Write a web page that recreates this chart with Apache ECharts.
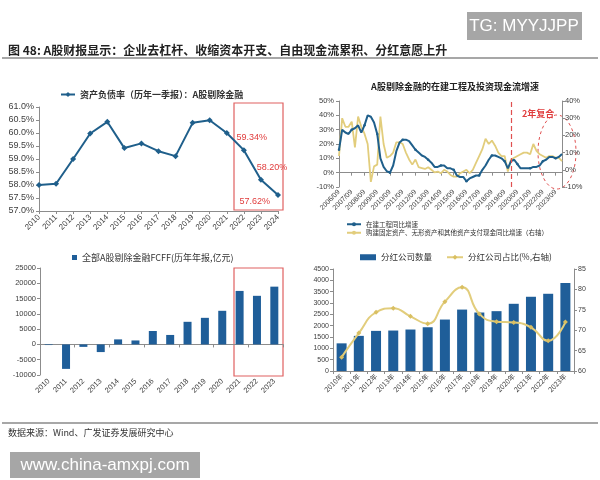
<!DOCTYPE html>
<html>
<head>
<meta charset="utf-8">
<script src="https://cdn.jsdelivr.net/npm/echarts@6/dist/echarts.min.js"></script>
<style>
  html, body { margin: 0; padding: 0; background: #fff; }
  #main { width: 600px; height: 480px; }
</style>
</head>
<body>
<div id="main"></div>
<script>
// 资产负债率（历年一季报）
var debtYears = ['2010', '2011', '2012', '2013', '2014', '2015', '2016', '2017', '2018', '2019', '2020', '2021', '2022', '2023', '2024']
var debtRatio = [58.0, 58.05, 59.0, 59.98, 60.43, 59.42, 59.6, 59.3, 59.11, 60.39, 60.49, 60.0, 59.34, 58.20, 57.62]

// 在建工程及投资现金流增速（季度）
var quarters = [
  '2006/09', '2006/12',
  '2007/03', '2007/06', '2007/09', '2007/12', '2008/03', '2008/06', '2008/09', '2008/12',
  '2009/03', '2009/06', '2009/09', '2009/12', '2010/03', '2010/06', '2010/09', '2010/12',
  '2011/03', '2011/06', '2011/09', '2011/12', '2012/03', '2012/06', '2012/09', '2012/12',
  '2013/03', '2013/06', '2013/09', '2013/12', '2014/03', '2014/06', '2014/09', '2014/12',
  '2015/03', '2015/06', '2015/09', '2015/12', '2016/03', '2016/06', '2016/09', '2016/12',
  '2017/03', '2017/06', '2017/09', '2017/12', '2018/03', '2018/06', '2018/09', '2018/12',
  '2019/03', '2019/06', '2019/09', '2019/12', '2020/03', '2020/06', '2020/09', '2020/12',
  '2021/03', '2021/06', '2021/09', '2021/12', '2022/03', '2022/06', '2022/09', '2022/12',
  '2023/03', '2023/06', '2023/09', '2023/12', '2024/03'
]
var cipGrowth = [
  16, 30,
  28, 27, 30, 31, 33, 28, 33, 40,
  39, 35, 27, 10, 4, 1, 0, 5,
  15, 21, 23, 23, 22, 19, 16, 14,
  12, 11, 9, 7, 4, 4, 5, 5,
  3, 3, 2, -2, -3, -3, -6, -4,
  -3, -2, -2, 2, 5, 9, 12, 12,
  11, 10, 8, 3, 8, 9, 6, 3,
  3, 3, 3, 4, 4, 5, 8, 9,
  11, 11, 10, 11, 13
]
var capexGrowth = [
  8, 30,
  25, 25, 28, 13, 31, 25, 21, 15,
  -7, 2, 3, 31, 15, 7, 8, 10,
  16, 16, 15, 10, 6, 3, 6, 1.5,
  1, 0.5, 1.5, 0, -1.5, -1, -2, 0,
  -1, -3, -4, -4, -2, -1, 0, -2,
  0, 4, 8, 12, 18, 15, 17, 14,
  10, 8, 8, -1, 6, 7, 8, 9,
  10, 10, 9, 15, 11, 9, 8, 7,
  8, 8, 7, 7, 5
]

// FCFF（历年年报，亿元）
var fcffYears = ['2010', '2011', '2012', '2013', '2014', '2015', '2016', '2017', '2018', '2019', '2020', '2021', '2022', '2023']
var fcff = [-200, -8000, -800, -2500, 1650, 1300, 4400, 3100, 7400, 8700, 11000, 17500, 15900, 18900]

// 分红
var divYears = ['2010年', '2011年', '2012年', '2013年', '2014年', '2015年', '2016年', '2017年', '2018年', '2019年', '2020年', '2021年', '2022年', '2023年']
var divCount = [1220, 1550, 1770, 1785, 1830, 1930, 2270, 2710, 2580, 2640, 2965, 3275, 3407, 3880]
var divRatio = [63.4, 69.3, 74.4, 75.4, 73.4, 71.6, 77.0, 80.5, 74.0, 72.1, 71.9, 70.7, 67.4, 72.0]

var BLUE = '#1f5f8b'
var BAR = '#1f5e99'
var GOLD = '#e2cd7c'
var RED = '#e03c3c'
var AXIS = '#8c8c8c'
var TXT = '#404040'
var CJK = 'Noto Sans CJK SC'
var NUM = 'Liberation Sans'

var chart = echarts.init(document.getElementById('main'))

var redLabels = {
  12: { position: 'top', offset: [8, 0] },
  13: { position: 'top', offset: [11, 0] },
  14: { position: 'left', offset: [0, 7] }
}
var debtData = debtRatio.map(function(v, i) {
  var item = { value: v }
  if (redLabels[i]) {
    item.label = {
      show: true,
      position: redLabels[i].position,
      offset: redLabels[i].offset,
      color: RED,
      fontSize: 9,
      fontFamily: NUM,
      formatter: function(p) { return p.value.toFixed(2) + '%' }
    }
  }
  return item
})

function plain(v) { return String(v) }

function valAxis(grid, o) {
  return Object.assign({
    type: 'value',
    gridIndex: grid,
    splitLine: { show: false },
    axisLine: { show: true, lineStyle: { color: AXIS } },
    axisTick: { show: true, length: 3, lineStyle: { color: AXIS } },
    axisLabel: { color: TXT, fontFamily: NUM, fontSize: 7.5, margin: 4, formatter: plain }
  }, o)
}

function catAxis(grid, data, o) {
  return Object.assign({
    type: 'category',
    gridIndex: grid,
    data: data,
    position: 'bottom',
    axisLine: { show: true, lineStyle: { color: AXIS } },
    axisTick: { show: true, length: 3, lineStyle: { color: AXIS } },
    axisLabel: { color: TXT, fontFamily: NUM, fontSize: 7.5, rotate: 45, margin: 4 }
  }, o)
}

var option = {
  animation: false,
  backgroundColor: '#fff',
  textStyle: { fontFamily: CJK },
  grid: [
    { left: 39, top: 107, width: 239, height: 104 },
    { left: 339, top: 101, width: 223, height: 86 },
    { left: 40, top: 268, width: 243, height: 107 },
    { left: 333, top: 269, width: 241, height: 102 }
  ],
  xAxis: [
    catAxis(0, debtYears, { boundaryGap: false, axisLabel: { color: TXT, fontFamily: NUM, fontSize: 8, rotate: 45, margin: 5 } }),
    catAxis(1, quarters, {
      boundaryGap: false,
      axisLine: { show: false, onZero: false },
      axisTick: { show: false },
      axisLabel: { color: TXT, fontFamily: NUM, fontSize: 7, rotate: 45, margin: 4, interval: 3 }
    }),
    catAxis(1, quarters, {
      boundaryGap: false,
      axisLine: { show: true, onZero: true, lineStyle: { color: AXIS } },
      axisTick: { show: true, length: 3, interval: 3, lineStyle: { color: AXIS } },
      axisLabel: { show: false }
    }),
    catAxis(2, fcffYears, {
      axisLine: { show: false, onZero: false },
      axisTick: { show: false },
      axisLabel: { color: TXT, fontFamily: NUM, fontSize: 7.5, rotate: 45, margin: 5, interval: 0 }
    }),
    catAxis(2, fcffYears, {
      axisLine: { show: true, onZero: true, lineStyle: { color: AXIS } },
      axisLabel: { show: false }
    }),
    catAxis(3, divYears, { axisLabel: { color: TXT, fontFamily: CJK, fontSize: 7, rotate: 45, margin: 4, interval: 0 } })
  ],
  yAxis: [
    valAxis(0, {
      min: 57, max: 61, interval: 0.5,
      axisLabel: { color: TXT, fontFamily: NUM, fontSize: 9, margin: 5, formatter: function(v) { return v.toFixed(1) + '%' } }
    }),
    valAxis(1, { min: -10, max: 50, interval: 10, axisLabel: { color: TXT, fontFamily: NUM, fontSize: 7.5, margin: 5, formatter: '{value}%' } }),
    valAxis(1, { min: -10, max: 40, interval: 10, position: 'right', axisLabel: { color: TXT, fontFamily: NUM, fontSize: 7.5, margin: 3, formatter: '{value}%' } }),
    valAxis(2, { min: -10000, max: 25000, interval: 5000 }),
    valAxis(3, { min: 0, max: 4500, interval: 500, axisLabel: { color: TXT, fontFamily: NUM, fontSize: 7, margin: 4, formatter: plain } }),
    valAxis(3, { min: 60, max: 85, interval: 5, position: 'right', axisLabel: { color: TXT, fontFamily: NUM, fontSize: 7, margin: 4, formatter: plain } })
  ],
  legend: [
    {
      left: 55, top: 85, itemWidth: 14, itemHeight: 6, itemGap: 4,
      textStyle: { fontFamily: CJK, fontSize: 9, fontWeight: 'bold', color: '#333' },
      data: ['资产负债率（历年一季报）：A股剔除金融']
    },
    {
      left: 341, top: 216, orient: 'vertical', itemWidth: 14, itemHeight: 5, itemGap: 2,
      textStyle: { fontFamily: CJK, fontSize: 6.5, color: '#333' },
      data: ['在建工程同比增速', '购建固定资产、无形资产和其他资产支付现金同比增速（右轴）']
    },
    {
      left: 67, top: 248, itemWidth: 5, itemHeight: 5, icon: 'rect',
      textStyle: { fontFamily: CJK, fontSize: 9, color: '#333' },
      data: ['全部A股剔除金融FCFF(历年年报,亿元)']
    },
    {
      left: 355, top: 248, itemWidth: 16, itemHeight: 6, itemGap: 14,
      textStyle: { fontFamily: CJK, fontSize: 8.5, color: '#333' },
      data: [{ name: '分红公司数量', icon: 'rect' }, '分红公司占比(%,右轴)']
    }
  ],
  series: [
    {
      name: '资产负债率（历年一季报）：A股剔除金融',
      type: 'line',
      xAxisIndex: 0, yAxisIndex: 0,
      data: debtData,
      symbol: 'diamond', symbolSize: 6,
      itemStyle: { color: BLUE },
      lineStyle: { color: BLUE, width: 2 }
    },
    {
      name: '在建工程同比增速',
      type: 'line',
      xAxisIndex: 1, yAxisIndex: 1,
      data: cipGrowth,
      symbol: 'circle', symbolSize: 2.5,
      itemStyle: { color: BLUE },
      lineStyle: { color: BLUE, width: 2 },
      z: 3,
      markLine: {
        silent: true, symbol: 'none',
        label: { show: false },
        lineStyle: { color: '#e05050', type: [5, 3], width: 1.2 },
        data: [{ xAxis: '2020/03' }]
      }
    },
    {
      name: '购建固定资产、无形资产和其他资产支付现金同比增速（右轴）',
      type: 'line',
      xAxisIndex: 1, yAxisIndex: 2,
      data: capexGrowth,
      showSymbol: false, symbol: 'none',
      itemStyle: { color: GOLD },
      lineStyle: { color: GOLD, width: 1.8 },
      z: 2
    },
    {
      name: '全部A股剔除金融FCFF(历年年报,亿元)',
      type: 'bar',
      xAxisIndex: 3, yAxisIndex: 3,
      data: fcff,
      barWidth: 8,
      itemStyle: { color: BAR }
    },
    {
      name: '分红公司数量',
      type: 'bar',
      xAxisIndex: 5, yAxisIndex: 4,
      data: divCount,
      barWidth: 10,
      itemStyle: { color: BAR }
    },
    {
      name: '分红公司占比(%,右轴)',
      type: 'line',
      xAxisIndex: 5, yAxisIndex: 5,
      data: divRatio,
      smooth: true,
      symbol: 'diamond', symbolSize: 5,
      itemStyle: { color: '#d9bf62' },
      lineStyle: { color: GOLD, width: 2 }
    }
  ],
  graphic: [
    { type: 'rect', shape: { x: 467, y: 12, width: 115, height: 28 }, style: { fill: '#a6a6a6' } },
    { type: 'text', x: 524, y: 26, style: { text: 'TG: MYYJJPP', fill: '#fff', font: '17px "Liberation Sans"', textAlign: 'center', textVerticalAlign: 'middle' } },
    { type: 'text', x: 8, y: 50, style: { text: '图 48: A股财报显示：企业去杠杆、收缩资本开支、自由现金流累积、分红意愿上升', fill: '#222', font: 'bold 12px "Noto Sans CJK SC"', textVerticalAlign: 'middle' } },
    { type: 'line', shape: { x1: 2, y1: 58, x2: 598, y2: 58 }, style: { stroke: '#8a8a8a', lineWidth: 1.5 } },
    { type: 'text', x: 455, y: 87, style: { text: 'A股剔除金融的在建工程及投资现金流增速', fill: '#222', font: 'bold 9px "Noto Sans CJK SC"', textAlign: 'center', textVerticalAlign: 'middle' } },
    { type: 'text', x: 522, y: 114, style: { text: '2年复合', fill: RED, font: 'bold 9px "Noto Sans CJK SC"', textVerticalAlign: 'middle' } },
    { type: 'ellipse', shape: { cx: 557, cy: 152, rx: 19, ry: 37 }, style: { fill: 'none', stroke: '#e05050', lineWidth: 1, lineDash: [3, 3] } },
    { type: 'rect', shape: { x: 234, y: 103, width: 49, height: 107 }, style: { fill: 'none', stroke: '#e06060', lineWidth: 1.2 } },
    { type: 'rect', shape: { x: 234, y: 268, width: 49, height: 108 }, style: { fill: 'none', stroke: '#e06060', lineWidth: 1.2 } },
    { type: 'line', shape: { x1: 2, y1: 423, x2: 598, y2: 423 }, style: { stroke: '#8a8a8a', lineWidth: 1.5 } },
    { type: 'text', x: 8, y: 433, style: { text: '数据来源：Wind、广发证券发展研究中心', fill: '#333', font: '9px "Noto Sans CJK SC"', textVerticalAlign: 'middle' } },
    { type: 'rect', shape: { x: 10, y: 452, width: 190, height: 26 }, style: { fill: '#a6a6a6' } },
    { type: 'text', x: 105, y: 465, style: { text: 'www.china-amxpj.com', fill: '#fff', font: '17px "Liberation Sans"', textAlign: 'center', textVerticalAlign: 'middle' } }
  ]
}

chart.setOption(option)
</script>
</body>
</html>
